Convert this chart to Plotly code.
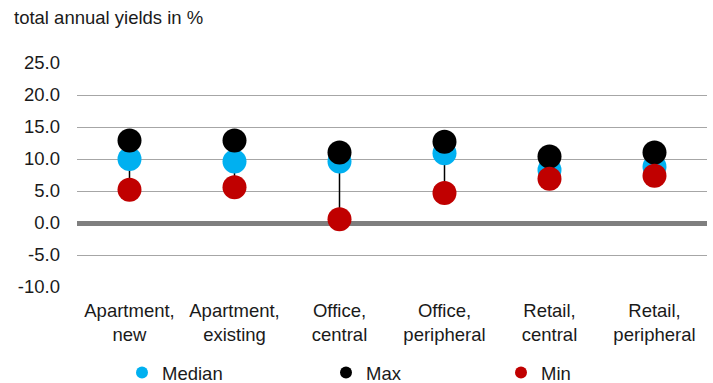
import plotly.graph_objects as go

categories = ["Apartment,<br>new", "Apartment,<br>existing", "Office,<br>central",
              "Office,<br>peripheral", "Retail,<br>central", "Retail,<br>peripheral"]
median_vals = [10.0, 9.6, 9.6, 10.9, 8.3, 8.8]
max_vals = [12.9, 12.9, 11.0, 12.7, 10.4, 11.0]
min_vals = [5.2, 5.6, 0.6, 4.7, 6.9, 7.4]
y_ticks = [-10, -5, 0, 5, 10, 15, 20, 25]
y_tick_text = ["-10.0", "-5.0", "0.0", "5.0", "10.0", "15.0", "20.0", "25.0"]

FONT = "Liberation Sans, Arial, sans-serif"
FS = 18.5
W, H = 713, 383

# hi-lo connector lines
lx, ly = [], []
for c, lo, hi in zip(categories, min_vals, max_vals):
    lx += [c, c, None]
    ly += [lo, hi, None]

fig = go.Figure()
fig.add_trace(go.Scatter(x=lx, y=ly, mode="lines", line=dict(color="#000000", width=1.5),
                         showlegend=False, hoverinfo="skip"))
fig.add_trace(go.Scatter(x=categories, y=median_vals, mode="markers", name="Median",
                         marker=dict(color="#00B0F0", size=24), legend="legend"))
fig.add_trace(go.Scatter(x=categories, y=max_vals, mode="markers", name="Max",
                         marker=dict(color="#000000", size=24), legend="legend2"))
fig.add_trace(go.Scatter(x=categories, y=min_vals, mode="markers", name="Min",
                         marker=dict(color="#C00000", size=24), legend="legend3"))


def leg(xpx):
    return dict(orientation="h", xref="container", x=xpx / W, xanchor="left",
                yref="container", y=(H - 373) / H, yanchor="middle",
                itemsizing="constant", font=dict(size=FS, family=FONT),
                bgcolor="rgba(0,0,0,0)")


fig.update_layout(
    width=W, height=H,
    margin=dict(l=77, r=6, t=63, b=96, autoexpand=False),
    paper_bgcolor="white", plot_bgcolor="white",
    font=dict(family=FONT, size=FS, color="#1a1a1a"),
    showlegend=True,
    legend=leg(122), legend2=leg(326), legend3=leg(501),
    annotations=[dict(text="total annual yields in %", xref="paper", yref="paper",
                      x=-65 / 630, y=1 + 45 / 224, xanchor="left", yanchor="middle",
                      showarrow=False, font=dict(size=FS))],
)
fig.update_xaxes(type="category", showgrid=False, zeroline=False, showline=False,
                 ticks="", ticklabelstandoff=10, range=[-0.5, 5.5])
fig.update_yaxes(range=[-10, 25], tickvals=y_ticks, ticktext=y_tick_text,
                 showgrid=True, gridcolor="#A6A6A6", gridwidth=1.2,
                 zeroline=True, zerolinecolor="#7F7F7F", zerolinewidth=5,
                 ticks="", ticklabelstandoff=16, showline=False)

fig.write_html("out.html", config={"displayModeBar": False},
               post_script="document.body.style.margin='0';")
